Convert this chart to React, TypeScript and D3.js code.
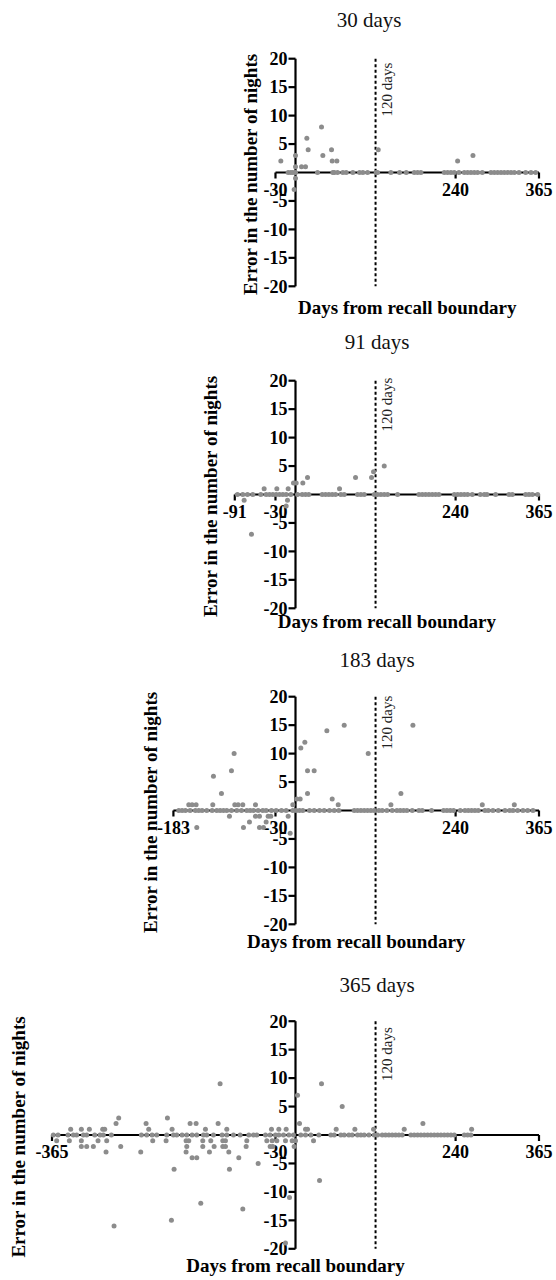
import React from 'react';
import * as d3 from 'd3';

// ---------- data (day from recall boundary, error in number of nights) ----------
const yTickValues = [20, 15, 10, 5, -5, -10, -15, -20];

const titles = ['30 days', '91 days', '183 days', '365 days'];
const xStarts = [-30, -91, -183, -365];
const xTickSets = [
  [-30, 240, 365],
  [-91, -30, 240, 365],
  [-183, -30, 240, 365],
  [-365, -30, 240, 365],
];

// Panel "30 days"
const p30Zero = [-11, -7, -4, 0, 33, 56, 58, 63, 71, 76, 86, 96, 101, 108, 121, 123, 143, 156, 166, 178, 183, 188, 223, 228, 233, 238, 245, 253, 258, 263, 268, 273, 280, 293, 298, 303, 308, 313, 318, 323, 328, 335, 345, 353, 360];
const p30Pts = [[-22, 2], [0, 3], [0, 1], [0, -1], [-2, -3], [9, 1], [15, 1], [17, 6], [19, 4], [39, 8], [41, 3], [54, 4], [55, 2], [62, 2], [124, 4], [243, 2], [266, 3]];

// Panel "91 days"
const p91Zero = [-87, -79, -72, -64, -52, -44, -39, -34, -29, -24, -19, -14, -7, 3, 10, 15, 20, 40, 45, 50, 55, 60, 68, 73, 93, 98, 103, 118, 123, 128, 133, 138, 153, 185, 190, 195, 200, 205, 210, 215, 238, 243, 248, 253, 258, 265, 277, 283, 287, 300, 320, 325, 345, 350, 355, 363];
const p91Pts = [[-77, -1], [-66, -7], [-47, 1], [-28, 1], [-11, 1], [-12, -1], [-14, -2], [-3, 2], [1, 2], [11, 2], [18, 3], [66, 1], [90, 3], [114, 3], [117, 4], [133, 5]];

// Panel "183 days"
const p183Zero = [-175, -170, -165, -158, -150, -145, -140, -133, -125, -118, -113, -108, -103, -96, -88, -81, -73, -68, -63, -56, -49, -44, -36, -29, -21, -14, -4, 1, 6, 11, 21, 28, 36, 43, 51, 58, 65, 88, 93, 98, 103, 108, 113, 118, 125, 130, 137, 145, 152, 157, 162, 167, 175, 185, 190, 204, 222, 227, 232, 237, 247, 254, 259, 264, 269, 274, 284, 289, 296, 304, 314, 321, 326, 333, 341, 348, 356];
const p183Pts = [[-148, -3], [-160, 1], [-155, 1], [-149, 1], [-123, 6], [-124, 1], [-111, 3], [-99, -1], [-96, 7], [-92, 10], [-91, 1], [-86, 1], [-79, 1], [-78, -3], [-69, -2], [-60, 1], [-60, -1], [-54, -1], [-54, -3], [-48, -3], [-44, -2], [-41, -1], [-37, -1], [-11, -1], [-8, -4], [-4, 1], [2, 2], [7, 2], [8, 11], [14, 12], [18, 7], [28, 7], [18, 3], [47, 14], [55, 2], [64, 1], [73, 15], [109, 10], [143, 1], [158, 3], [176, 15], [280, 1], [328, 1]];

// Panel "365 days"
const p365Zero = [-363, -356, -341, -333, -328, -318, -313, -301, -293, -288, -276, -231, -223, -215, -208, -193, -183, -178, -170, -163, -155, -148, -138, -133, -123, -110, -103, -93, -83, -70, -63, -58, -45, -38, -30, -25, -18, -10, -3, 8, 15, 23, 35, 53, 58, 68, 73, 80, 85, 93, 98, 103, 110, 118, 123, 130, 135, 140, 145, 150, 155, 160, 173, 178, 183, 188, 193, 198, 203, 208, 213, 218, 223, 228, 233, 238, 253, 258, 263];
const p365Pts = [[-358, -1], [-337, 1], [-339, -1], [-321, 1], [-309, 1], [-321, -1], [-321, -2], [-313, -2], [-303, -2], [-296, -1], [-289, 1], [-286, 1], [-283, -1], [-284, -3], [-269, 2], [-265, 3], [-262, -2], [-272, -16], [-232, -3], [-224, 2], [-220, 1], [-214, -1], [-192, 3], [-194, -1], [-185, 1], [-182, -6], [-186, -15], [-164, -1], [-160, -1], [-163, -2], [-164, -3], [-155, -4], [-148, -4], [-158, 2], [-149, 2], [-142, -12], [-139, -1], [-139, -2], [-135, 1], [-129, -3], [-127, -1], [-122, -2], [-116, 2], [-113, 9], [-109, -1], [-105, -1], [-109, -2], [-105, -2], [-103, 1], [-100, -3], [-99, -6], [-85, -4], [-79, -13], [-74, -2], [-73, -1], [-56, -5], [-43, -1], [-38, -2], [-36, 1], [-25, 1], [-14, 1], [-35, -1], [-28, -1], [-15, -1], [-5, -1], [0, -1], [-34, -2], [-2, -2], [3, 7], [6, 2], [15, 1], [18, 1], [27, -1], [39, 9], [36, -8], [-9, -11], [-15, -19], [61, 1], [70, 5], [89, 1], [117, 1], [163, 1], [191, 2], [264, 1]];

const zeroSets = [p30Zero, p91Zero, p183Zero, p365Zero];
const pointSets = [p30Pts, p91Pts, p183Pts, p365Pts];

// ---------- layout ----------
const W = 556;
const H = 1280;
const layout = [
  { zeroY: 172.5, titleX: 369, titleY: 27, xLabelY: 313.5, yLabelX: 250, refDy: 4 },
  { zeroY: 494.5, titleX: 377, titleY: 348.5, xLabelY: 628, yLabelX: 210, refDy: -3 },
  { zeroY: 810.5, titleX: 377, titleY: 666.5, xLabelY: 948, yLabelX: 150.5, refDy: -1 },
  { zeroY: 1135, titleX: 377, titleY: 992, xLabelY: 1272, yLabelX: 18, refDy: 6 },
];

const FONT = '"Liberation Serif", "Times New Roman", serif';
const DOT = '#8c8c8c';

const x = d3.scaleLinear().domain([-365, 365]).range([52, 539]);
const HALF = 113.8;

function Panel({ i }: { i: number }) {
  const L = layout[i];
  const y = d3.scaleLinear().domain([-20, 20]).range([L.zeroY + HALF, L.zeroY - HALF]);
  const x0 = x(0);
  const xStart = x(xStarts[i]);
  const xEnd = x(365);
  const zeros = zeroSets[i];
  const pts = pointSets[i];
  const axisMid = (xStart + xEnd) / 2;
  return (
    <g>
      <text x={L.titleX} y={L.titleY} textAnchor="middle" fontFamily={FONT} fontSize={21} fill="#111">
        {titles[i]}
      </text>
      {/* y axis */}
      <line x1={x0} x2={x0} y1={y(20)} y2={y(-20)} stroke="#000" strokeWidth={2.2} />
      {yTickValues.map((v) => (
        <g key={v}>
          <line x1={x0 - 7} x2={x0} y1={y(v)} y2={y(v)} stroke="#000" strokeWidth={2.2} />
          <text x={x0 - 8} y={y(v)} dy="0.35em" textAnchor="end" fontFamily={FONT} fontWeight="bold" fontSize={18} fill="#000">
            {v}
          </text>
        </g>
      ))}
      {/* x axis */}
      <line x1={xStart} x2={xEnd} y1={y(0)} y2={y(0)} stroke="#000" strokeWidth={2.2} />
      {xTickSets[i].map((v) => (
        <g key={v}>
          <line x1={x(v)} x2={x(v)} y1={y(0)} y2={y(0) + 6} stroke="#000" strokeWidth={2.2} />
          <text x={x(v)} y={y(0) + 23} textAnchor="middle" fontFamily={FONT} fontWeight="bold" fontSize={18} fill="#000">
            {v}
          </text>
        </g>
      ))}
      {/* 120 day reference */}
      <line x1={x(120)} x2={x(120)} y1={y(20)} y2={y(-20)} stroke="#000" strokeWidth={2} strokeDasharray="3,2.5" />
      <text
        transform={`translate(${x(120) + 16},${y(20) + L.refDy}) rotate(-90)`}
        textAnchor="end"
        fontFamily={FONT}
        fontSize={15}
        fill="#222"
      >
        120 days
      </text>
      {/* points */}
      {zeros.map((d, k) => (
        <circle key={'z' + k} cx={x(d)} cy={y(0)} r={2.5} fill={DOT} />
      ))}
      {pts.map((p, k) => (
        <circle key={'p' + k} cx={x(p[0])} cy={y(p[1])} r={2.5} fill={DOT} />
      ))}
      {/* axis titles */}
      <text x={axisMid} y={L.xLabelY} textAnchor="middle" fontFamily={FONT} fontWeight="bold" fontSize={19} fill="#000">
        Days from recall boundary
      </text>
      <text
        transform={`translate(${L.yLabelX},${L.zeroY + 2}) rotate(-90)`}
        dy="0.35em"
        textAnchor="middle"
        fontFamily={FONT}
        fontWeight="bold"
        fontSize={19}
        fill="#000"
      >
        Error in the number of nights
      </text>
    </g>
  );
}

export default function App() {
  return (
    <svg
      width={W}
      height={H}
      viewBox={`0 0 ${W} ${H}`}
      style={{ position: 'absolute', left: 0, top: 0, background: '#fff' }}
    >
      <rect width={W} height={H} fill="#fff" />
      {[0, 1, 2, 3].map((i) => (
        <Panel key={i} i={i} />
      ))}
    </svg>
  );
}
